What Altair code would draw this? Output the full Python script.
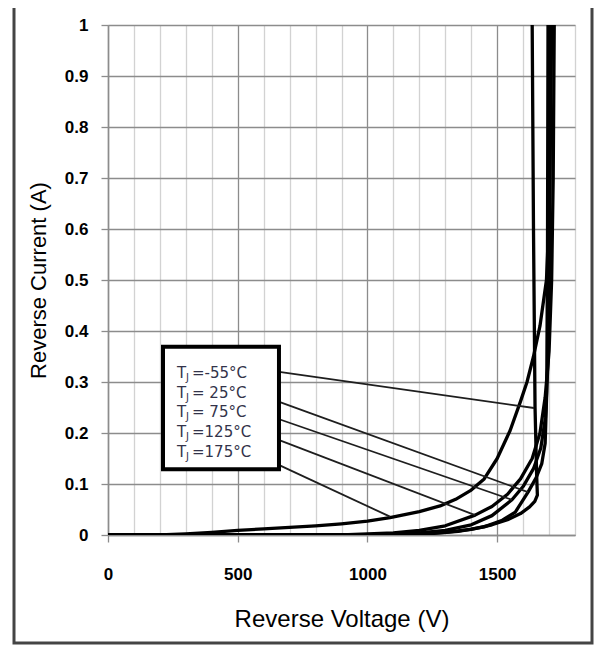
import altair as alt
import pandas as pd

# ---------------- data ----------------
series_names = ["-55", "25", "75", "125", "175"]

v_m55 = [0, 1000, 1200, 1300, 1400, 1480, 1540, 1590, 1625, 1645, 1655, 1652, 1646, 1640, 1635]
i_m55 = [0, 0, 0.002, 0.005, 0.011, 0.02, 0.03, 0.042, 0.055, 0.066, 0.078, 0.12, 0.25, 0.6, 1.0]

v_25 = [0, 1100, 1250, 1350, 1450, 1520, 1570, 1619, 1650, 1672, 1685, 1691, 1694, 1696]
i_25 = [0, 0, 0.003, 0.007, 0.016, 0.029, 0.045, 0.084, 0.112, 0.14, 0.18, 0.28, 0.55, 1.0]

v_75 = [0, 1050, 1200, 1300, 1400, 1480, 1557, 1600, 1640, 1668, 1686, 1697, 1703, 1706]
i_75 = [0, 0, 0.004, 0.009, 0.02, 0.038, 0.069, 0.095, 0.13, 0.17, 0.23, 0.35, 0.6, 1.0]

v_125 = [0, 900, 1100, 1200, 1300, 1415, 1480, 1540, 1590, 1635, 1665, 1685, 1700, 1710, 1716, 1720]
i_125 = [0, 0, 0.004, 0.009, 0.018, 0.039, 0.056, 0.08, 0.11, 0.15, 0.2, 0.27, 0.36, 0.5, 0.7, 1.0]

v_175 = [0, 200, 300, 400, 500, 600, 700, 800, 900, 1000, 1087, 1200, 1280, 1340, 1400,
         1450, 1500, 1550, 1590, 1615, 1640, 1665, 1690, 1700, 1706, 1710]
i_175 = [0, 0, 0.002, 0.005, 0.009, 0.012, 0.015, 0.018, 0.022, 0.027, 0.034, 0.046, 0.057,
         0.07, 0.088, 0.11, 0.15, 0.205, 0.262, 0.3, 0.35, 0.41, 0.5, 0.62, 0.8, 1.0]

# annotation box (data coordinates)
box_v = [212, 659]
box_i = [0.129, 0.369]

# legend text lines
label_main = ["=-55°C", "= 25°C", "= 75°C", "\u00a0=125°C", "\u00a0=175°C"]
label_v = [266, 266, 266, 266, 266]
label_i = [0.3176, 0.2784, 0.2412, 0.2020, 0.1627]

# leader lines: start (box edge) -> end (on curve)
lead_v1 = [660, 660, 660, 660, 660]
lead_i1 = [0.320, 0.261, 0.227, 0.186, 0.137]
lead_v2 = [1642, 1619, 1557, 1415, 1087]
lead_i2 = [0.249, 0.084, 0.069, 0.039, 0.036]

x_ticks = list(range(0, 1801, 100))
y_ticks = [round(k * 0.1, 1) for k in range(11)]

# ---------------- build tables ----------------
rows = []
for name, vs, cs in zip(series_names,
                        [v_m55, v_25, v_75, v_125, v_175],
                        [i_m55, i_25, i_75, i_125, i_175]):
    for k, (v, c) in enumerate(zip(vs, cs)):
        rows.append({"V": v, "I": c, "T": name, "k": k})
curves = pd.DataFrame(rows)

box_df = pd.DataFrame({"V": [box_v[0]], "V2": [box_v[1]], "I": [box_i[0]], "I2": [box_i[1]]})
lab_df = pd.DataFrame({"V": label_v, "I": label_i, "txt": label_main})
lead_df = pd.DataFrame({"V": lead_v1, "I": lead_i1, "V2": lead_v2, "I2": lead_i2})
frame_df = pd.DataFrame({"a": [0]})

GRID_DARK = "#8c8c8c"
GRID_LIGHT = "#d2d2d2"
TICK_FONT = "Liberation Sans, Arial, sans-serif"

x_scale = alt.Scale(domain=[0, 1800], nice=False, zero=False)
y_scale = alt.Scale(domain=[0, 1], nice=False)

x_axis = alt.Axis(
    values=x_ticks,
    format="d",
    title="Reverse Voltage (V)",
    labelExpr="(datum.value % 500 === 0 && datum.value < 1800) ? datum.label : ''",
    gridColor={"condition": {"test": "datum.value % 500 === 0", "value": GRID_DARK},
               "value": GRID_LIGHT},
    tickOpacity={"condition": {"test": "datum.value % 500 === 0 && datum.value < 1800", "value": 1},
                 "value": 0},
    gridWidth=1.3,
    tickSize=7, tickColor=GRID_DARK, tickWidth=1.3,
    domainColor=GRID_DARK, domainWidth=1.5,
    labelFont=TICK_FONT, labelFontWeight="bold", labelFontSize=17, labelColor="black",
    labelPadding=24, labelFlush=False,
    titleFont="Liberation Sans, Arial, sans-serif", titleFontSize=24, titleFontWeight="normal",
    titleColor="black", titlePadding=25,
)
y_axis = alt.Axis(
    values=y_ticks,
    title="Reverse Current (A)",
    format="~g",
    gridColor=GRID_DARK, gridWidth=1.3,
    tickSize=7, tickColor=GRID_DARK, tickWidth=1.3,
    domainColor=GRID_DARK, domainWidth=1.5,
    labelFont=TICK_FONT, labelFontWeight="bold", labelFontSize=17, labelColor="black",
    labelPadding=13, labelFlush=False,
    titleFont="Liberation Sans, Arial, sans-serif", titleFontSize=22, titleFontWeight="normal",
    titleColor="black", titlePadding=14,
)

X = lambda f="V:Q": alt.X(f, scale=x_scale, axis=x_axis, title="Reverse Voltage (V)")
Y = lambda f="I:Q": alt.Y(f, scale=y_scale, axis=y_axis, title="Reverse Current (A)")

lines = alt.Chart(curves).mark_line(color="black", strokeWidth=3.3, clip=True,
                                    strokeJoin="round").encode(
    x=X(), y=Y(), detail="T:N", order="k:Q")

leaders = alt.Chart(lead_df).mark_rule(color="#1e1e1e", strokeWidth=1.8).encode(
    x=X(), y=Y(), x2="V2:Q", y2="I2:Q")

box = alt.Chart(box_df).mark_rect(fill="white", stroke="black", strokeWidth=4).encode(
    x=X(), y=Y(), x2="V2:Q", y2="I2:Q")

TXT_COLOR = "#33334a"
TXT_FONT = "DejaVu Sans, Verdana, sans-serif"
t_main = alt.Chart(lab_df).mark_text(align="left", baseline="middle", font=TXT_FONT,
                                     fontSize=15, color=TXT_COLOR).encode(
    x=X(), y=Y(), text=alt.value("T"))
t_sub = alt.Chart(lab_df).mark_text(align="left", baseline="middle", font=TXT_FONT,
                                    fontSize=10, color=TXT_COLOR, dx=9, dy=5).encode(
    x=X(), y=Y(), text=alt.value("J"))
t_rest = alt.Chart(lab_df).mark_text(align="left", baseline="middle", font=TXT_FONT,
                                     fontSize=15, color=TXT_COLOR, dx=15).encode(
    x=X(), y=Y(), text="txt:N")

frame = alt.Chart(frame_df).mark_rect(filled=False, stroke="#444444", strokeWidth=3).encode(
    x=alt.value(-94), x2=alt.value(484), y=alt.value(-22), y2=alt.value(618))

chart = alt.layer(lines, leaders, box, t_main, t_sub, t_rest, frame).properties(
    width=467, height=510,
    autosize=alt.AutoSizeParams(type="none"),
    padding={"left": 100, "top": 17, "right": 22, "bottom": 110},
).configure_view(stroke=None).configure(background="white")

chart.save("out.html", embed_options={"renderer": "svg", "actions": False})
